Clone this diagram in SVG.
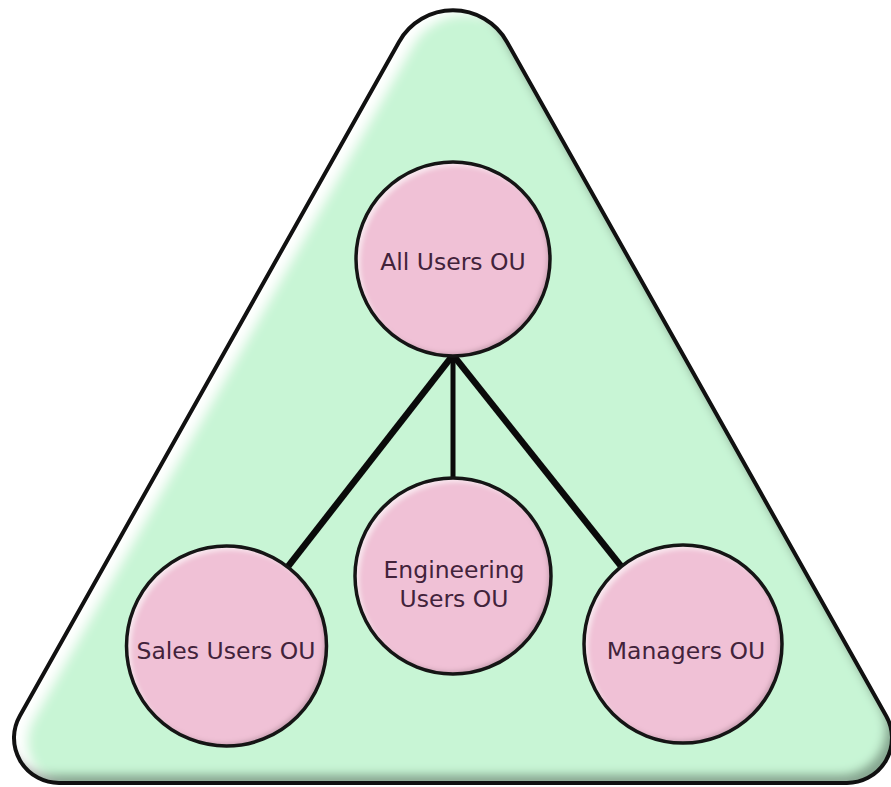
<svg xmlns="http://www.w3.org/2000/svg" width="891" height="787" viewBox="0 0 891 787">
  <defs>
    <style>
      .tri-fill { fill: #c8f5d5; }
      .tri-line { fill: none; stroke: #111; stroke-width: 4; }
      .ou-fill { fill: #f0c1d6; }
      .ou-line { fill: none; stroke: #151515; stroke-width: 3.5; }
      .link { stroke: #0a0a0a; stroke-linecap: butt; }
      .lbl { font-family: "DejaVu Sans", Verdana, "Liberation Sans", sans-serif; font-size: 23.5px; fill: #42233b; text-anchor: middle; }
    </style>
    <path id="triPath" d="M 399,41.9 A 62 62 0 0 1 507,41.9 L 886.2,715.9 A 45 45 0 0 1 847,783 L 59,783 A 45 45 0 0 1 19.8,715.9 Z"/>
    <filter id="triBevel" x="-5%" y="-5%" width="110%" height="110%">
      <feOffset in="SourceAlpha" dx="13" dy="4" result="o1"/>
      <feGaussianBlur in="o1" stdDeviation="6" result="b1"/>
      <feComposite in="SourceAlpha" in2="b1" operator="out" result="hiMask"/>
      <feFlood flood-color="#ffffff" flood-opacity="1"/>
      <feComposite in2="hiMask" operator="in" result="hi"/>
      <feOffset in="SourceAlpha" dx="-7" dy="-9" result="o2"/>
      <feGaussianBlur in="o2" stdDeviation="5" result="b2"/>
      <feComposite in="SourceAlpha" in2="b2" operator="out" result="shMask"/>
      <feFlood flood-color="#1a2a20" flood-opacity="0.6"/>
      <feComposite in2="shMask" operator="in" result="sh"/>
      <feMerge>
        <feMergeNode in="SourceGraphic"/>
        <feMergeNode in="hi"/>
        <feMergeNode in="sh"/>
      </feMerge>
    </filter>
    <filter id="ouBevel" x="-10%" y="-10%" width="120%" height="120%">
      <feOffset in="SourceAlpha" dx="4" dy="4" result="o1"/>
      <feGaussianBlur in="o1" stdDeviation="2.5" result="b1"/>
      <feComposite in="SourceAlpha" in2="b1" operator="out" result="hiMask"/>
      <feFlood flood-color="#ffffff" flood-opacity="0.6"/>
      <feComposite in2="hiMask" operator="in" result="hi"/>
      <feOffset in="SourceAlpha" dx="-3" dy="-3" result="o2"/>
      <feGaussianBlur in="o2" stdDeviation="2" result="b2"/>
      <feComposite in="SourceAlpha" in2="b2" operator="out" result="shMask"/>
      <feFlood flood-color="#402030" flood-opacity="0.35"/>
      <feComposite in2="shMask" operator="in" result="sh"/>
      <feMerge>
        <feMergeNode in="SourceGraphic"/>
        <feMergeNode in="hi"/>
        <feMergeNode in="sh"/>
      </feMerge>
    </filter>
  </defs>

  <g id="domain-triangle">
    <use href="#triPath" class="tri-fill" filter="url(#triBevel)"/>
    <use href="#triPath" class="tri-line"/>
  </g>

  <g id="connectors">
    <line class="link" x1="453" y1="355" x2="226" y2="646" stroke-width="6.5"/>
    <line class="link" x1="453" y1="355" x2="683" y2="644" stroke-width="6.5"/>
    <line class="link" x1="453" y1="355" x2="453" y2="576" stroke-width="5"/>
  </g>

  <g id="all-users-ou">
    <circle class="ou-fill" cx="453" cy="259" r="97" filter="url(#ouBevel)"/>
    <circle class="ou-line" cx="453" cy="259" r="97"/>
    <text class="lbl" x="453" y="270">All Users OU</text>
  </g>

  <g id="engineering-users-ou">
    <circle class="ou-fill" cx="453" cy="576" r="98" filter="url(#ouBevel)"/>
    <circle class="ou-line" cx="453" cy="576" r="98"/>
    <text class="lbl" x="454" y="578">Engineering</text>
    <text class="lbl" x="454" y="607">Users OU</text>
  </g>

  <g id="sales-users-ou">
    <circle class="ou-fill" cx="226.5" cy="646" r="100" filter="url(#ouBevel)"/>
    <circle class="ou-line" cx="226.5" cy="646" r="100"/>
    <text class="lbl" x="226" y="659">Sales Users OU</text>
  </g>

  <g id="managers-ou">
    <circle class="ou-fill" cx="683" cy="644" r="99" filter="url(#ouBevel)"/>
    <circle class="ou-line" cx="683" cy="644" r="99"/>
    <text class="lbl" x="686" y="659">Managers OU</text>
  </g>
</svg>
